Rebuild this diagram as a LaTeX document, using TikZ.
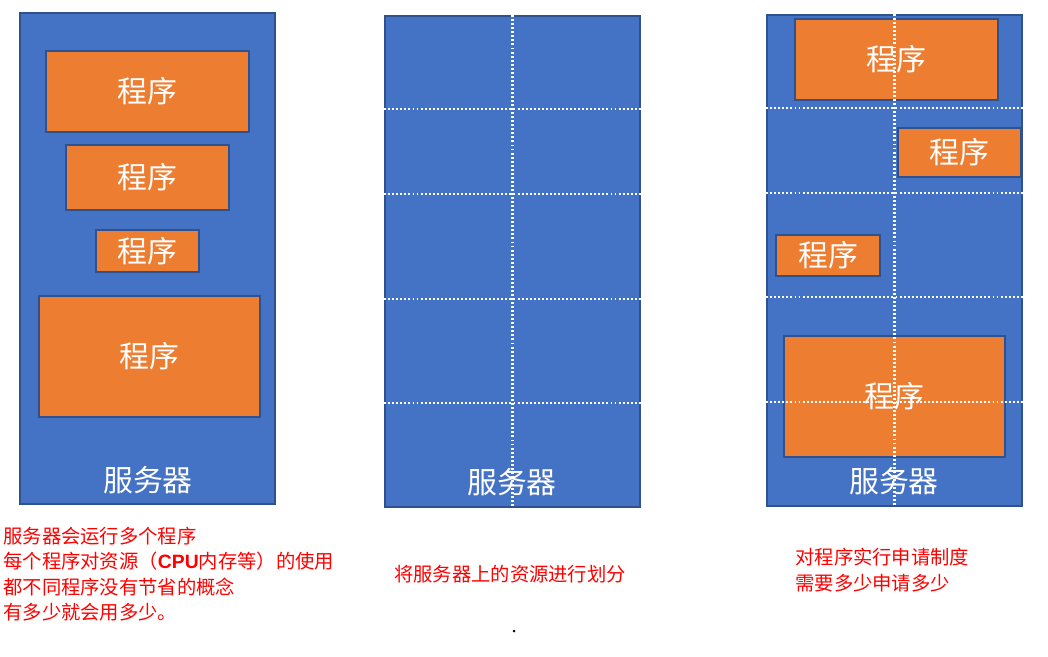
\documentclass[tikz,border=0pt]{standalone}
\usepackage{fontspec}
\setmainfont{Noto Sans CJK SC}
\newfontfamily\latinsans{Liberation Sans}
\usetikzlibrary{fit}
\definecolor{srvfill}{RGB}{68,114,196}
\definecolor{srvline}{RGB}{47,82,143}
\definecolor{progfill}{RGB}{237,125,49}
\definecolor{notered}{RGB}{255,0,0}

\begin{document}
\begin{tikzpicture}[x=0.02cm, y=-0.02cm]

  \tikzset{
    server/.style = {
      rectangle, draw=srvline, line width=0.9pt, fill=srvfill, inner sep=0pt
    },
    prog/.style = {
      rectangle, draw=srvline, line width=0.9pt, fill=progfill, inner sep=0pt,
      text=white, font=\fontsize{17}{20}\selectfont
    },
    srvlabel/.style = {
      text=white, font=\fontsize{17}{20}\selectfont, inner sep=0pt
    },
    gridline/.style = {
      white, line width=1.3pt, dash pattern=on 1.1pt off 1.2pt
    },
    note/.style = {
      text=notered, font=\fontsize{11}{14.4}\selectfont, align=left, inner sep=0pt
    }
  }

  \useasboundingbox (0,0) rectangle (1048,656);

  % --- Left server: programs use what they like -----------------------------
  \node (srvA) [server, fit={(20,13) (275,504)}] {};
  \node (progA1) [prog, minimum width=4.06cm, minimum height=1.62cm] at (147.5,91.5)  {程序};
  \node (progA2) [prog, minimum width=3.26cm, minimum height=1.30cm] at (147.5,177.5) {程序};
  \node (progA3) [prog, minimum width=2.06cm, minimum height=0.84cm] at (147.5,251)   {程序};
  \node (progA4) [prog, minimum width=4.42cm, minimum height=2.42cm] at (149.5,356.5) {程序};
  \node (lblA) [srvlabel] at (148,480) {服务器};

  % --- Middle server: resources cut into slots ------------------------------
  \node (srvB) [server, fit={(385,16) (640,507)}] {};
  \node (lblB) [srvlabel] at (512,482) {服务器};
  \foreach \y in {109,194,299,403}
    \draw [gridline] (srvB.west |- 0,\y) -- (srvB.east |- 0,\y);
  \draw [gridline] (srvB.north) -- (srvB.south);

  % --- Right server: programs request their share ---------------------------
  \node (srvC) [server, fit={(767,15) (1022,506)}] {};
  \node (progC1) [prog, minimum width=4.06cm, minimum height=1.62cm] at (896.5,59.5)  {程序};
  \node (progC2) [prog, minimum width=2.46cm, minimum height=0.98cm] at (959.5,152.5) {程序};
  \node (progC3) [prog, minimum width=2.08cm, minimum height=0.82cm] at (828,255.5)   {程序};
  \node (progC4) [prog, minimum width=4.42cm, minimum height=2.42cm] at (894.5,396.5) {程序};
  \node (lblC) [srvlabel] at (894,481) {服务器};
  \foreach \y in {108,193,297,402}
    \draw [gridline] (srvC.west |- 0,\y) -- (srvC.east |- 0,\y);
  \draw [gridline] (srvC.north) -- (srvC.south);

  % --- Notes ----------------------------------------------------------------
  \node (noteA) [note, anchor=north west] at (3,527)
    {服务器会运行多个程序\\
     每个程序对资源（{\latinsans\bfseries CPU}内存等）的使用\\
     都不同程序没有节省的概念\\
     有多少就会用多少。};
  \node (noteB) [note] at (510,574) {将服务器上的资源进行划分};
  \node (noteC) [note, anchor=north west] at (795,548)
    {对程序实行申请制度\\
     需要多少申请多少};

  \node (dot) [circle, fill=black, inner sep=0.6pt] at (514,631) {};

\end{tikzpicture}
\end{document}
